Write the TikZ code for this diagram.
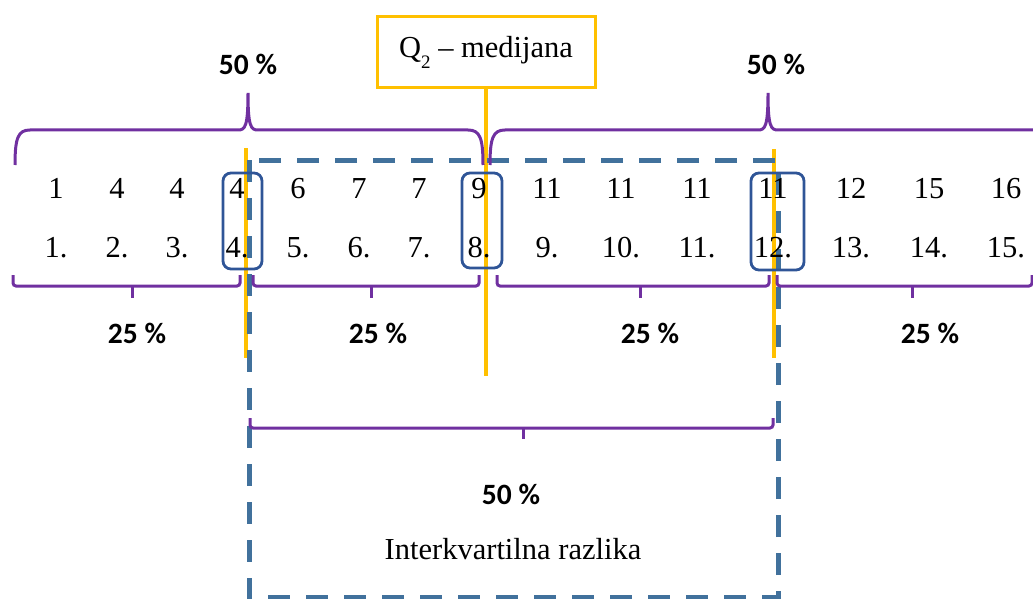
\documentclass[tikz,border=0pt]{standalone}
\usepackage{fontspec}
\setmainfont{Liberation Serif}
\newfontfamily\pctfont{Carlito}
\definecolor{brpurple}{HTML}{7030A0}
\definecolor{qyellow}{HTML}{FFC000}
\definecolor{boxblue}{HTML}{2F5597}
\definecolor{dashblue}{HTML}{41719C}
\begin{document}
\begin{tikzpicture}[x=1pt,y=-1pt,
  num/.style={inner sep=0pt,font=\fontsize{30.5}{30.5}\selectfont},
  pct/.style={inner sep=0pt,font=\pctfont\bfseries\fontsize{29.5}{29.5}\selectfont},
  brc/.style={draw=brpurple,line width=3pt},
  ybar/.style={draw=qyellow,line width=3.5pt},
  qbox/.style={draw=boxblue,line width=2.8pt,rounded corners=8pt},
  dbox/.style={draw=dashblue,line width=5pt,dash pattern=on 22pt off 16pt}]
\useasboundingbox (0,0) rectangle (1033,599);
% yellow quartile lines
\coordinate (q1t) at (246,148);
\coordinate (q1b) at (246,358);
\coordinate (q3t) at (774,149);
\coordinate (q3b) at (774,358);
\coordinate (q2b) at (486,376);
\draw[ybar] (q1t) -- (q1b);
\draw[ybar] (q3t) -- (q3b);
\node[draw=qyellow,line width=3pt,fill=white,minimum width=218pt,minimum height=71pt,inner sep=0pt,
  font=\fontsize{30.5}{30.5}\selectfont] (q2) at (486,52.5) {Q\raisebox{-0.35em}{\fontsize{19}{19}\selectfont 2} – medijana};
\draw[ybar] (q2.south) -- (q2b);
% dashed interquartile box
\coordinate (d1) at (249,160);
\coordinate (d2) at (778,597);
\draw[dbox] (d1) rectangle (d2);
% top braces
\draw[brc] (15,165) .. controls (15,138) and (18,130) .. (30,130) -- (238,130)
  .. controls (245,130) and (248,127) .. (248,93) .. controls (248,127) and (251,130) .. (258,130)
  -- (468,130) .. controls (480,130) and (483,138) .. (483,165);
\draw[brc] (490,165) .. controls (490,138) and (493,130) .. (505,130) -- (758,130)
  .. controls (765,130) and (768,127) .. (768,93) .. controls (768,127) and (771,130) .. (778,130)
  -- (1045,130) .. controls (1057,130) and (1060,138) .. (1060,165);
\node[pct] (t50a) at (248,64) {50 \%};
\node[pct] (t50b) at (776,64) {50 \%};
% values and ranks
\foreach \x/\v/\r [count=\i] in {56/1/1.,117/4/2.,177/4/3.,237/4/4.,298/6/5.,359/7/6.,419/7/7.,479/9/8.,
  547/11/9.,621/11/10.,697/11/11.,773/11/12.,851/12/13.,929/15/14.,1006/16/15.}{
  \node[num,anchor=base] (v\i) at (\x,198) {\v};
  \node[num,anchor=base] (r\i) at (\x,257) {\r};
}
% boxes around quartile positions
\draw[qbox] (223,173) rectangle (262,269);
\draw[qbox] (462,173) rectangle (502,268);
\draw[qbox] (751,173) rectangle (804,270);
% bottom braces
\draw[brc,rounded corners=3pt] (13,275) -- (13,286) -- (240,286) -- (240,275);
\draw[brc] (132,286) -- (132,298);
\draw[brc,rounded corners=3pt] (253,275) -- (253,286) -- (479,286) -- (479,275);
\draw[brc] (371,286) -- (371,298);
\draw[brc,rounded corners=3pt] (497,275) -- (497,286) -- (769,286) -- (769,275);
\draw[brc] (640,286) -- (640,298);
\draw[brc,rounded corners=3pt] (777,275) -- (777,286) -- (1032,286) -- (1032,275);
\draw[brc] (912,286) -- (912,298);
\node[pct] (p1) at (137,333) {25 \%};
\node[pct] (p2) at (378,333) {25 \%};
\node[pct] (p3) at (650,333) {25 \%};
\node[pct] (p4) at (930,333) {25 \%};
% IQR brace
\draw[brc,rounded corners=3pt] (250,418) -- (250,428) -- (773,428) -- (773,418);
\draw[brc] (523,428) -- (523,439);
\node[pct] (iq) at (511,494) {50 \%};
\node[num] (iqt) at (513,549) {Interkvartilna razlika};
\end{tikzpicture}
\end{document}
